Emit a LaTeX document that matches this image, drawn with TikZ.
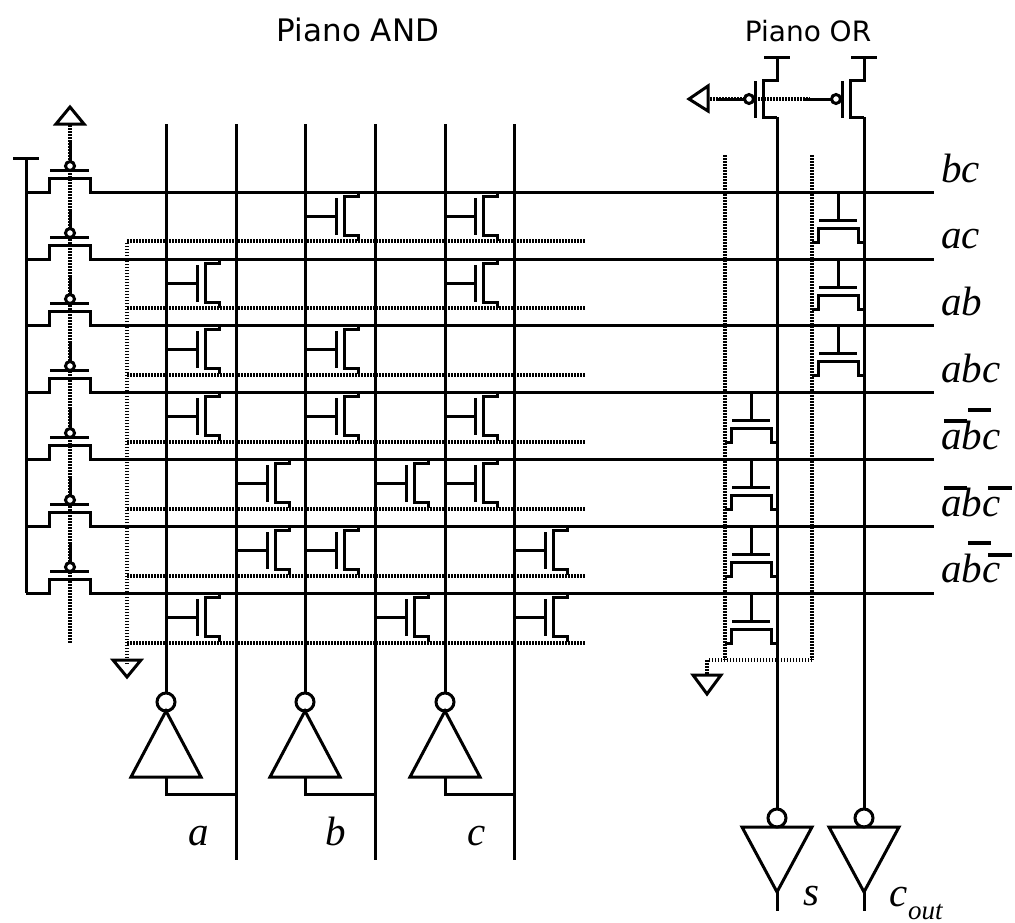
\documentclass[tikz,border=0pt]{standalone}
\usepackage{fontspec}
\setmainfont{Liberation Serif}
\newfontfamily\titlefont{DejaVu Sans}
\tikzset{
  wire/.style={line width=3pt,line join=miter},
  rail/.style={line width=4pt,dash pattern=on 1.5pt off 1.5pt},
  title/.style={anchor=base,inner sep=0pt,font=\titlefont\fontsize{31}{36}\selectfont},
  lab/.style={anchor=base west,inner sep=0pt,font=\itshape\fontsize{41}{48}\selectfont},
  sublab/.style={anchor=base west,inner sep=0pt,font=\itshape\fontsize{27}{32}\selectfont},
  bubble/.style={wire,fill=white},
  bar/.style={line width=4pt},
}
% transistor hanging right of a vertical line: x, y of word line above it
\newcommand{\nfetv}[2]{%
  \draw[wire] (#1,#2+24) -- (#1+30,#2+24);
  \draw[wire] (#1+31,#2+6) -- (#1+31,#2+43);
  \draw[wire] (#1+53,#2) -- (#1+53,#2+4) -- (#1+39,#2+4) -- (#1+39,#2+43) -- (#1+53,#2+43) -- (#1+53,#2+49);
}
% transistor hanging under a word line: x of gate, y of word line
\newcommand{\nfeth}[2]{%
  \draw[wire] (#1,#2) -- (#1,#2+28);
  \draw[wire] (#1-19,#2+28.5) -- (#1+19,#2+28.5);
  \draw[wire] (#1-26,#2+50) -- (#1-20,#2+50) -- (#1-20,#2+36) -- (#1+20,#2+36) -- (#1+20,#2+50) -- (#1+26,#2+50);
}
% load on a word line
\newcommand{\pfeth}[2]{%
  \draw[wire] (#1,#2-50) -- (#1,#2-31);
  \draw[bubble] (#1,#2-26) circle [radius=4.5];
  \draw[wire] (#1-20,#2-22) -- (#1+19,#2-22);
  \draw[wire] (#1-44,#2) -- (#1-21,#2) -- (#1-21,#2-14) -- (#1+20,#2-14) -- (#1+20,#2) -- (#1+26,#2);
}
% load on a vertical line: x of the line, top at y=57
\newcommand{\pfetv}[1]{%
  \draw[wire] (#1-13,57) -- (#1+13,57);
  \draw[wire] (#1,57) -- (#1,80) -- (#1-14,80) -- (#1-14,117) -- (#1,117);
  \draw[wire] (#1-22,81) -- (#1-22,118);
  \draw[bubble] (#1-28,99) circle [radius=4.5];
  \draw[wire] (#1-59,99) -- (#1-33,99);
}
\begin{document}
\begin{tikzpicture}[x=1pt,y=-1pt]
\useasboundingbox (0,0) rectangle (1015,922);

\node[title] (and) at (358,41) {Piano AND};
\node[title] (or) at (808,41) {\fontsize{28}{34}\selectfont Piano OR};

% dotted rails
\draw[rail] (70,125) -- (70,643);
\draw[rail] (127,664) -- (127,241);
\foreach \y in {241,308,375,442,509,576,643}
  \draw[rail] (127,\y) -- (585,\y);
\draw[rail] (725,155) -- (725,660);
\draw[rail] (812,155) -- (812,660);
\draw[rail] (812,660) -- (707,660) -- (707,675);
\draw[rail] (710,99) -- (810,99);

% ground and supply triangles
\draw[wire] (70,107) -- (84,124) -- (56,124) -- cycle;
\draw[wire] (113,660) -- (141,660) -- (127,677) -- cycle;
\draw[wire] (693,675) -- (721,675) -- (707,694) -- cycle;
\draw[wire] (689,99) -- (708,86) -- (708,111) -- cycle;

% word lines
\draw[wire] (13,158) -- (39,158);
\draw[wire] (26,158) -- (26,593);
\foreach \y in {192,259,325,392,459,526,593} {
  \draw[wire] (90,\y) -- (934,\y);
  \pfeth{70}{\y}
}

% bit lines
\foreach \x in {166,305,445} {
  \draw[wire] (\x,124) -- (\x,693);
  \draw[bubble] (\x,702) circle [radius=9];
  \draw[wire] (\x,711) -- (\x+35,777) -- (\x-35,777) -- cycle;
  \draw[wire] (\x,777) -- (\x,794) -- (\x+70,794);
}
\foreach \x in {236,375,514}
  \draw[wire] (\x,124) -- (\x,860);

% AND plane
\foreach \x/\y in {305/192,444/192,
                   166/259,444/259,
                   166/325,305/325,
                   166/392,305/392,444/392,
                   236/459,375/459,444/459,
                   236/526,305/526,514/526,
                   166/593,375/593,514/593} {
  \nfetv{\x}{\y}
}

% OR plane
\foreach \y in {192,259,325} {
  \nfeth{838}{\y}
}
\foreach \y in {392,459,526,593} {
  \nfeth{751}{\y}
}
\pfetv{777}
\pfetv{864}
\foreach \x in {777,864} {
  \draw[wire] (\x,117) -- (\x,810);
  \draw[bubble] (\x,818) circle [radius=9];
  \draw[wire] (\x-35,827) -- (\x+35,827) -- (\x,892) -- cycle;
  \draw[wire] (\x,892) -- (\x,911);
}

% labels
\node[lab] (bc) at (941,182) {bc};
\node[lab] (ac) at (941,248) {ac};
\node[lab] (ab) at (941,315) {ab};
\node[lab] (abc) at (941,382) {abc};
\node[lab] (nanbc) at (941,449) {abc};
\node[lab] (nanbnc) at (941,516) {abc};
\node[lab] (anbnc) at (941,582) {abc};
\draw[bar] (944,421) -- (967,421);
\draw[bar] (968,410) -- (991,410);
\draw[bar] (944,488) -- (967,488);
\draw[bar] (988,488) -- (1012,488);
\draw[bar] (968,543) -- (991,543);
\draw[bar] (988,555) -- (1012,555);
\node[lab] (a) at (188,845) {a};
\node[lab] (b) at (325,845) {b};
\node[lab] (c) at (467,845) {c};
\node[lab] (s) at (803,905) {s};
\node[lab] (cout) at (889,906) {c};
\node[sublab] (out) at (908,919) {out};
\end{tikzpicture}
\end{document}
